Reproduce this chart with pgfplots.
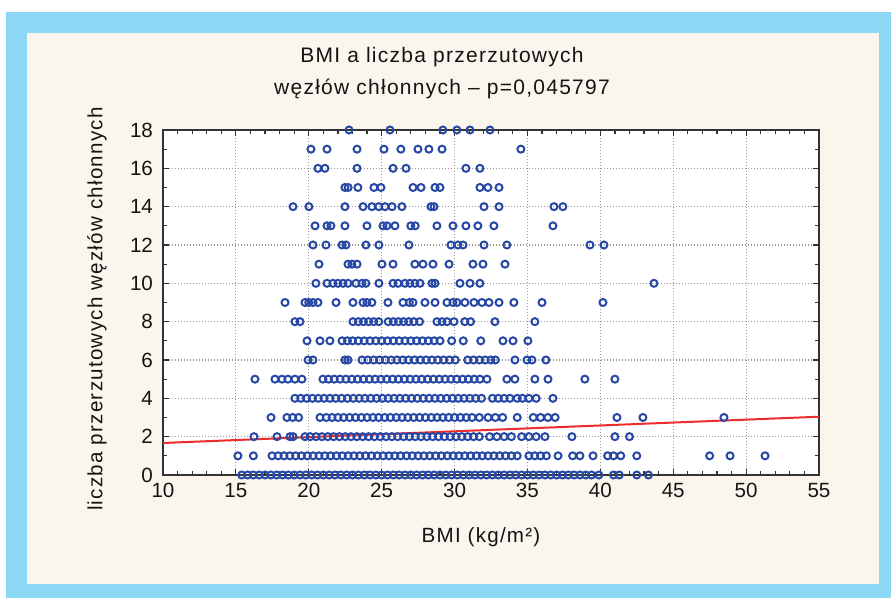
\documentclass[border=0pt]{standalone}
\usepackage{fontspec}
\setmainfont{Liberation Sans}
\newfontfamily\spaced[LetterSpace=6]{Liberation Sans}
\usepackage{pgfplots}
\pgfplotsset{compat=1.18}
\definecolor{bord}{RGB}{140,215,245}
\definecolor{cream}{RGB}{250,246,238}
\definecolor{mblue}{RGB}{40,72,165}
\definecolor{rline}{RGB}{235,45,45}
\definecolor{txt}{RGB}{20,20,20}
\begin{document}
\begin{tikzpicture}[x=0.5pt,y=0.5pt]
\fill[white] (0,0) rectangle (891,598);
\fill[bord] (6,0) rectangle (891,586);
\fill[cream] (27,14) rectangle (879,565);
\begin{axis}[at={(81.5pt,61.5pt)}, anchor=south west, scale only axis,
  width=328pt, height=172.5pt,
  xmin=10, xmax=55, ymin=0, ymax=18,
  xtick={10,15,...,55}, ytick={0,2,...,18},
  minor x tick num=4, minor y tick num=1,
  tick align=inside, major tick length=3pt, minor tick length=2pt,
  grid=major, major grid style={dash pattern=on 0.6pt off 0.9pt, black!40, line width=0.6pt},
  axis line style={line width=1pt, draw=black!80},
  every tick/.style={black!80, line width=0.6pt},
  tick label style={font=\fontsize{10.3}{12}\selectfont, text=txt},
  yticklabel style={xshift=-1.5pt},
  xticklabel style={yshift=-0.5pt},
  /pgf/number format/assume math mode=true,
  axis background/.style={fill=white},
  clip=true]
\addplot[only marks, mark=o, mark size=1.75pt, mark options={line width=1pt, draw=mblue}] coordinates {
(15.4,0) (15.8,0) (16.2,0) (16.6,0) (17.0,0) (17.4,0) (17.8,0) (18.2,0) (18.6,0) (19.0,0) (19.4,0) (19.8,0) (20.2,0) (20.6,0) (21.0,0) (21.4,0) (21.8,0) (22.2,0) (22.6,0) (23.0,0) (23.4,0) (23.8,0) (24.2,0) (24.6,0) (25.0,0) (25.4,0) (25.8,0) (26.2,0) (26.6,0) (27.0,0) (27.4,0) (27.8,0) (28.2,0) (28.6,0) (29.0,0) (29.4,0) (29.8,0) (30.2,0) (30.6,0) (31.0,0) (31.4,0) (31.8,0) (32.2,0) (32.6,0) (33.0,0) (33.4,0) (33.8,0) (34.2,0) (34.6,0) (35.0,0) (35.4,0) (35.8,0) (36.2,0) (36.6,0) (37.0,0) (37.4,0) (37.8,0) (38.2,0) (38.6,0) (39.0,0) (39.4,0) (39.9,0) (40.9,0) (41.3,0) (42.5,0) (43.3,0)
(15.14,1) (16.2,1) (17.48,1) (17.9,1) (18.3,1) (18.7,1) (19.1,1) (19.5,1) (19.9,1) (20.3,1) (20.7,1) (21.1,1) (21.5,1) (21.9,1) (22.3,1) (22.7,1) (23.1,1) (23.5,1) (23.9,1) (24.3,1) (24.7,1) (25.1,1) (25.5,1) (25.9,1) (26.3,1) (26.7,1) (27.1,1) (27.5,1) (27.9,1) (28.3,1) (28.7,1) (29.1,1) (29.5,1) (29.9,1) (30.3,1) (30.7,1) (31.1,1) (31.5,1) (31.9,1) (32.3,1) (32.7,1) (33.1,1) (33.5,1) (33.9,1) (34.3,1) (35.1,1) (35.5,1) (35.9,1) (36.3,1) (37.1,1) (38.1,1) (38.6,1) (39.5,1) (40.5,1) (40.9,1) (41.4,1) (42.5,1) (47.5,1) (48.9,1) (51.3,1)
(16.24,2) (17.82,2) (18.71,2) (18.92,2) (19.74,2) (20.1,2) (20.5,2) (20.9,2) (21.3,2) (21.7,2) (22.1,2) (22.5,2) (22.9,2) (23.3,2) (23.7,2) (24.1,2) (24.5,2) (24.9,2) (25.3,2) (25.7,2) (26.1,2) (26.5,2) (26.9,2) (27.3,2) (27.7,2) (28.1,2) (28.5,2) (28.9,2) (29.3,2) (29.7,2) (30.1,2) (30.5,2) (30.9,2) (31.3,2) (31.7,2) (32.4,2) (32.9,2) (33.4,2) (33.9,2) (34.6,2) (35.1,2) (35.6,2) (36.2,2) (38.05,2) (41.0,2) (42.0,2)
(17.41,3) (18.5,3) (18.9,3) (19.3,3) (20.77,3) (21.2,3) (21.6,3) (22.0,3) (22.4,3) (22.8,3) (23.2,3) (23.6,3) (24.0,3) (24.4,3) (24.8,3) (25.2,3) (25.6,3) (26.0,3) (26.4,3) (26.8,3) (27.2,3) (27.6,3) (28.0,3) (28.4,3) (28.8,3) (29.2,3) (29.6,3) (30.0,3) (30.4,3) (30.8,3) (31.2,3) (31.7,3) (32.3,3) (32.8,3) (33.3,3) (34.3,3) (35.4,3) (35.9,3) (36.4,3) (36.9,3) (41.14,3) (42.92,3) (48.48,3)
(19.05,4) (19.45,4) (19.85,4) (20.25,4) (20.65,4) (21.05,4) (21.45,4) (21.85,4) (22.25,4) (22.65,4) (23.05,4) (23.45,4) (23.85,4) (24.25,4) (24.65,4) (25.05,4) (25.45,4) (25.85,4) (26.25,4) (26.65,4) (27.05,4) (27.45,4) (27.85,4) (28.25,4) (28.65,4) (29.05,4) (29.45,4) (29.85,4) (30.25,4) (30.65,4) (31.05,4) (31.45,4) (31.85,4) (32.6,4) (33.0,4) (33.4,4) (33.8,4) (34.3,4) (34.65,4) (35.1,4) (35.6,4) (36.75,4)
(16.31,5) (17.68,5) (18.16,5) (18.57,5) (19.05,5) (19.53,5) (20.97,5) (21.35,5) (21.75,5) (22.15,5) (22.55,5) (22.95,5) (23.35,5) (23.75,5) (24.15,5) (24.55,5) (24.95,5) (25.35,5) (25.75,5) (26.15,5) (26.55,5) (26.95,5) (27.35,5) (27.75,5) (28.15,5) (28.55,5) (28.95,5) (29.35,5) (29.75,5) (30.15,5) (30.55,5) (30.95,5) (31.35,5) (31.74,5) (32.22,5) (33.59,5) (34.14,5) (35.51,5) (36.41,5) (38.94,5) (41.0,5)
(19.95,6) (20.29,6) (22.48,6) (22.69,6) (23.65,6) (24.05,6) (24.45,6) (24.85,6) (25.25,6) (25.65,6) (26.05,6) (26.45,6) (26.85,6) (27.25,6) (27.65,6) (28.05,6) (28.45,6) (28.85,6) (29.25,6) (29.65,6) (30.05,6) (30.9,6) (31.3,6) (31.7,6) (32.1,6) (32.5,6) (32.8,6) (34.14,6) (34.97,6) (35.31,6) (36.27,6)
(19.88,7) (20.77,7) (21.45,7) (22.28,7) (22.65,7) (23.0,7) (23.4,7) (23.8,7) (24.2,7) (24.6,7) (25.0,7) (25.4,7) (25.8,7) (26.2,7) (26.6,7) (27.0,7) (27.4,7) (27.8,7) (28.2,7) (28.6,7) (29.0,7) (29.8,7) (30.6,7) (31.8,7) (33.32,7) (34.01,7) (35.03,7)
(19.05,8) (19.40,8) (23.03,8) (23.4,8) (23.75,8) (24.1,8) (24.45,8) (24.8,8) (25.45,8) (25.8,8) (26.15,8) (26.5,8) (26.85,8) (27.2,8) (27.6,8) (28.79,8) (29.14,8) (29.48,8) (29.96,8) (30.7,8) (31.1,8) (32.77,8) (35.51,8)
(18.37,9) (19.74,9) (20.0,9) (20.29,9) (20.63,9) (21.87,9) (23.03,9) (23.72,9) (23.99,9) (24.33,9) (25.43,9) (26.46,9) (26.9,9) (27.15,9) (27.97,9) (28.66,9) (29.48,9) (29.89,9) (30.16,9) (30.71,9) (31.33,9) (31.88,9) (32.36,9) (33.05,9) (34.07,9) (36.0,9) (40.18,9)
(20.49,10) (21.25,10) (21.66,10) (22.0,10) (22.35,10) (22.69,10) (23.24,10) (23.65,10) (23.92,10) (24.81,10) (25.78,10) (26.12,10) (26.60,10) (26.94,10) (27.28,10) (27.63,10) (28.45,10) (28.66,10) (30.37,10) (31.06,10) (31.74,10) (43.68,10)
(20.70,11) (22.69,11) (22.96,11) (23.31,11) (25.02,11) (25.78,11) (27.28,11) (27.83,11) (28.52,11) (29.62,11) (31.26,11) (31.95,11) (33.46,11)
(20.29,12) (21.18,12) (22.28,12) (22.55,12) (23.92,12) (24.81,12) (26.87,12) (29.75,12) (30.23,12) (30.58,12) (32.02,12) (33.59,12) (39.29,12) (40.25,12)
(20.43,13) (21.25,13) (21.52,13) (22.48,13) (23.99,13) (25.09,13) (25.36,13) (25.91,13) (27.0,13) (27.3,13) (28.79,13) (29.89,13) (30.78,13) (31.60,13) (32.70,13) (36.75,13)
(18.92,14) (20.01,14) (22.48,14) (23.72,14) (24.33,14) (24.8,14) (25.23,14) (25.71,14) (26.39,14) (28.38,14) (28.59,14) (32.02,14) (33.05,14) (36.82,14) (37.43,14)
(22.48,15) (22.7,15) (23.37,15) (24.47,15) (24.95,15) (27.15,15) (27.70,15) (28.66,15) (29.0,15) (31.74,15) (32.29,15) (33.05,15)
(20.63,16) (21.11,16) (23.31,16) (25.78,16) (26.67,16) (30.78,16) (31.74,16)
(20.15,17) (21.25,17) (23.31,17) (25.16,17) (26.32,17) (27.49,17) (28.24,17) (29.14,17) (34.55,17)
(22.76,18) (25.57,18) (29.20,18) (30.16,18) (31.06,18) (32.43,18)
};
\addplot[rline, line width=1pt] coordinates {(10,1.67) (55,3.04)};
\end{axis}
\node[anchor=base, text=txt, font=\spaced\fontsize{10.5}{12}\selectfont] at (442,535) {BMI a liczba przerzutowych};
\node[anchor=base, text=txt, font=\spaced\fontsize{10.5}{12}\selectfont] at (442,503) {węzłów chłonnych – p=0,045797};
\node[rotate=90, anchor=mid, text=txt, font=\spaced\fontsize{10.3}{12}\selectfont] at (97,289) {liczba przerzutowych węzłów chłonnych};
\node[anchor=mid, text=txt, font=\spaced\fontsize{10.3}{12}\selectfont] at (481,61) {BMI (kg/m²)};
\pgfresetboundingbox
\useasboundingbox (0,0) rectangle (891,598);
\end{tikzpicture}
\end{document}
